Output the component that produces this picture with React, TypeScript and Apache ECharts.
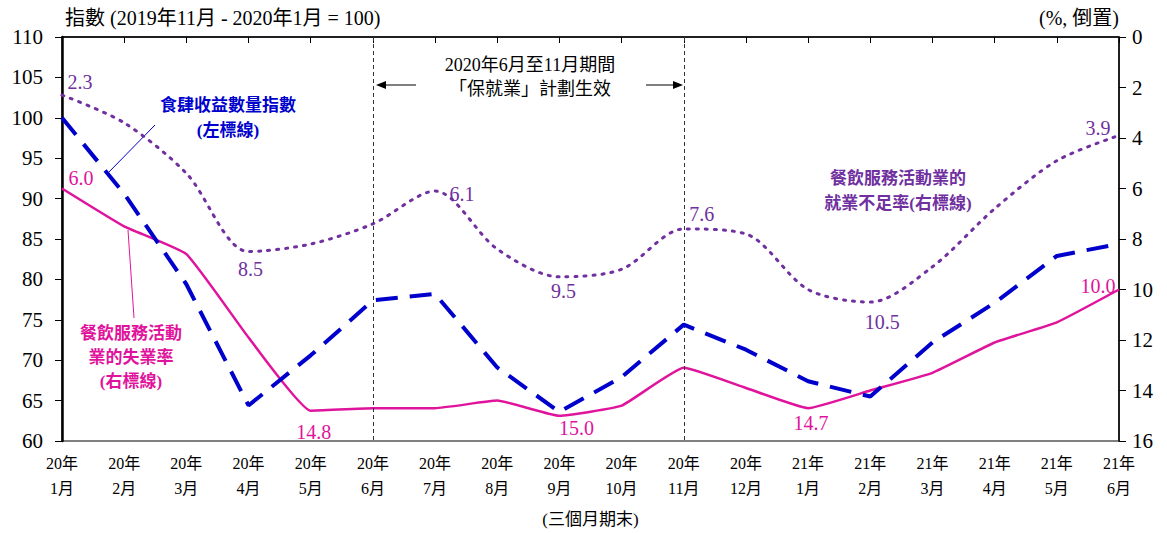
import React, { useEffect, useRef } from "react";
import * as echarts from "echarts";

const categories = [
  "20年\n1月", "20年\n2月", "20年\n3月", "20年\n4月", "20年\n5月", "20年\n6月",
  "20年\n7月", "20年\n8月", "20年\n9月", "20年\n10月", "20年\n11月", "20年\n12月",
  "21年\n1月", "21年\n2月", "21年\n3月", "21年\n4月", "21年\n5月", "21年\n6月",
];
const revenueIndex = [100.0, 90.6, 79.4, 64.4, 70.6, 77.4, 78.2, 69.1, 63.6, 67.9, 74.4, 71.3, 67.4, 65.5, 72.2, 77.1, 82.9, 84.4];
const unemployment = [6.0, 7.5, 8.6, 11.9, 14.8, 14.7, 14.7, 14.4, 15.0, 14.6, 13.1, 13.9, 14.7, 14.0, 13.3, 12.1, 11.3, 10.0];
const underemployment = [2.3, 3.4, 5.4, 8.5, 8.2, 7.4, 6.1, 8.4, 9.5, 9.2, 7.6, 7.8, 10.0, 10.5, 9.1, 6.8, 4.9, 3.9];
const leftTicks = { min: 60, max: 110, interval: 5 };
const rightTicks = { min: 0, max: 16, interval: 2 };

const unempLabels: Record<number, { position: string; offset: number[] }> = {
  0: { position: "top", offset: [19, 5] },
  4: { position: "bottom", offset: [3, 6] },
  8: { position: "bottom", offset: [17, -3] },
  12: { position: "bottom", offset: [3, -1] },
  17: { position: "top", offset: [-21, 12] },
};
const underLabels: Record<number, { position: string; offset: number[] }> = {
  0: { position: "top", offset: [18, 2] },
  3: { position: "bottom", offset: [2, 2] },
  6: { position: "right", offset: [9, 3] },
  8: { position: "bottom", offset: [4, -1] },
  10: { position: "top", offset: [18, 1] },
  13: { position: "bottom", offset: [12, 4] },
  17: { position: "top", offset: [-21, 8] },
};

const FONT = "'Liberation Serif', 'Times New Roman', 'Noto Sans CJK TC', serif";
const BLUE = "#0000CC";
const PINK = "#E0149C";
const PURPLE = "#7030A0";

export default function App() {
  const ref = useRef<HTMLDivElement>(null);
  useEffect(() => {
    if (!ref.current) return;
    const chart = echarts.init(ref.current, null, { renderer: "svg" });
    const labelSeries = (values: number[], map: Record<number, { position: string; offset: number[] }>, color: string) => ({
      type: "scatter",
      yAxisIndex: 1,
      symbol: "circle",
      symbolSize: 1,
      silent: true,
      itemStyle: { color: "transparent", opacity: 1 },
      z: 10,
      data: Object.keys(map).map((k) => {
        const i = Number(k);
        return {
          value: [i, values[i]],
          label: {
            show: true,
            position: map[i].position,
            offset: map[i].offset,
            color,
            opacity: 1,
            fontSize: 20,
            fontFamily: FONT,
            formatter: () => values[i].toFixed(1),
          },
        };
      }),
    });
    chart.setOption({
      animation: false,
      backgroundColor: "#fff",
      textStyle: { fontFamily: FONT },
      grid: { left: 62, right: 48, top: 37, bottom: 89, show: true, borderColor: "#000", borderWidth: 1 },
      xAxis: {
        type: "category",
        data: categories,
        boundaryGap: false,
        axisLine: { lineStyle: { color: "#000", width: 1.5 } },
        axisTick: { interval: 0, length: 6, lineStyle: { color: "#000" } },
        axisLabel: { interval: 0, color: "#000", fontSize: 16, lineHeight: 25, fontFamily: FONT, margin: 10 },
        name: "(三個月期末)",
        nameLocation: "middle",
        nameGap: 70,
        nameTextStyle: { color: "#000", fontSize: 17, fontFamily: FONT },
      },
      yAxis: [
        {
          type: "value",
          min: leftTicks.min,
          max: leftTicks.max,
          interval: leftTicks.interval,
          splitLine: { show: false },
          axisLine: { show: true, lineStyle: { color: "#000", width: 2.5 } },
          axisTick: { show: true, length: 7, lineStyle: { color: "#000" } },
          axisLabel: { color: "#000", fontSize: 21, fontFamily: FONT, margin: 19 },
        },
        {
          type: "value",
          inverse: true,
          min: rightTicks.min,
          max: rightTicks.max,
          interval: rightTicks.interval,
          splitLine: { show: false },
          axisLine: { show: true, lineStyle: { color: "#000", width: 1.5 } },
          axisTick: { show: true, length: 7, lineStyle: { color: "#000" } },
          axisLabel: { color: "#000", fontSize: 21, fontFamily: FONT, margin: 13 },
        },
      ],
      series: [
        {
          type: "line",
          name: "就業不足率",
          yAxisIndex: 1,
          data: underemployment,
          smooth: 0.3,
          symbol: "none",
          lineStyle: { color: PURPLE, width: 3, type: [2, 7], cap: "round" },
          z: 3,
        },
        {
          type: "line",
          name: "失業率",
          yAxisIndex: 1,
          data: unemployment,
          smooth: 0.12,
          symbol: "none",
          lineStyle: { color: PINK, width: 2.5 },
          z: 4,
          markLine: {
            silent: true,
            symbol: "none",
            label: { show: false },
            lineStyle: { color: "#333", type: [4, 3], width: 1 },
            data: [{ xAxis: categories[5] }, { xAxis: categories[10] }],
          },
        },
        {
          type: "line",
          name: "收益數量指數",
          yAxisIndex: 0,
          data: revenueIndex,
          symbol: "none",
          lineStyle: { color: BLUE, width: 4, type: [22, 12] },
          z: 5,
        },
        labelSeries(underemployment, underLabels, PURPLE),
        labelSeries(unemployment, unempLabels, PINK),
      ],
      graphic: [
        { type: "text", left: 65, top: 8, style: { text: "指數 (2019年11月 - 2020年1月 = 100)", font: `20px ${FONT}`, fill: "#000" } },
        { type: "text", right: 48, top: 8, style: { text: "(%, 倒置)", font: `20px ${FONT}`, fill: "#000", align: "right" } },
        { type: "text", x: 530, y: 56, style: { text: "2020年6月至11月期間", font: `18px ${FONT}`, fill: "#000", align: "center" } },
        { type: "text", x: 530, y: 80, style: { text: "「保就業」計劃生效", font: `18px ${FONT}`, fill: "#000", align: "center" } },
        { type: "line", shape: { x1: 384, y1: 85, x2: 416, y2: 85 }, style: { stroke: "#000", lineWidth: 1 } },
        { type: "polygon", shape: { points: [[376, 85], [386, 81], [386, 89]] }, style: { fill: "#000" } },
        { type: "line", shape: { x1: 646, y1: 85, x2: 674, y2: 85 }, style: { stroke: "#000", lineWidth: 1 } },
        { type: "polygon", shape: { points: [[683, 85], [673, 81], [673, 89]] }, style: { fill: "#000" } },
        { type: "text", x: 228, y: 93, style: { text: "食肆收益數量指數\n(左標線)", font: `bold 17px ${FONT}`, fill: BLUE, align: "center", lineHeight: 25 } },
        { type: "line", shape: { x1: 108, y1: 173, x2: 155, y2: 125 }, style: { stroke: BLUE, lineWidth: 1 } },
        { type: "text", x: 131, y: 321, style: { text: "餐飲服務活動\n業的失業率\n(右標線)", font: `bold 17px ${FONT}`, fill: PINK, align: "center", lineHeight: 24 } },
        { type: "line", shape: { x1: 128, y1: 230, x2: 134, y2: 318 }, style: { stroke: PINK, lineWidth: 1 } },
        { type: "text", x: 898, y: 166, style: { text: "餐飲服務活動業的\n就業不足率(右標線)", font: `bold 17px ${FONT}`, fill: PURPLE, align: "center", lineHeight: 25 } },
      ],
    });
    return () => chart.dispose();
  }, []);
  return <div ref={ref} style={{ position: "fixed", left: 0, top: 0, width: 1167, height: 533 }} />;
}
